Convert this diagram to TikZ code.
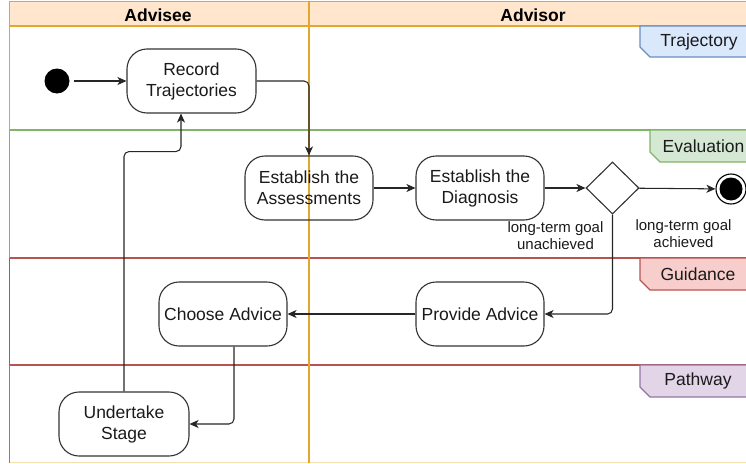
\documentclass[tikz,border=0pt]{standalone}
\usepackage{fontspec}
\setmainfont{Liberation Sans}
\usetikzlibrary{arrows.meta,shapes.geometric,calc}
\definecolor{hdrfill}{HTML}{FFE6CC}
\definecolor{hdrline}{HTML}{E3A72F}
\definecolor{trajfill}{HTML}{DAE8FC}
\definecolor{trajline}{HTML}{6C8EBF}
\definecolor{evalfill}{HTML}{D5E8D4}
\definecolor{evalline}{HTML}{82B366}
\definecolor{guidfill}{HTML}{F8CECC}
\definecolor{guidline}{HTML}{B85450}
\definecolor{pathfill}{HTML}{E1D5E7}
\definecolor{pathline}{HTML}{9673A6}
\definecolor{txt}{HTML}{1A1A1A}
\tikzset{
  act/.style={draw=black!80, line width=1.1pt, rounded corners=20pt, minimum width=128pt,
    minimum height=64pt, align=center, inner sep=0pt, text=txt,
    font=\fontsize{17.5}{21}\selectfont},
  arr/.style={draw=black!85, line width=1.05pt, rounded corners=5pt,
    -{Stealth[length=9pt,width=8pt,inset=2.5pt]}},
  lane/.style={line width=1.1pt},
  tagtext/.style={font=\fontsize{17.5}{21}\selectfont, text=txt, inner sep=0pt},
  lbl/.style={font=\fontsize{15}{17}\selectfont, text=txt, align=center, inner sep=0pt},
  hdr/.style={font=\bfseries\fontsize{17.5}{21}\selectfont, text=black, inner sep=0pt}
}
\begin{document}
\begin{tikzpicture}[x=1pt,y=-1pt]
\useasboundingbox (0,0) rectangle (746,463);
% lanes
\draw[lane, evalline] (9.5,130) -- (760,130);
\draw[lane, evalline] (9.5,130) -- (9.5,258);
\draw[lane, guidline] (9.5,258) -- (760,258);
\draw[lane, guidline] (9.5,258) -- (9.5,365);
\draw[lane, guidline] (9.5,365) -- (760,365);
\draw[lane, pathline] (9.5,365) -- (9.5,463);
\draw[lane, hdrline] (9.5,26) -- (9.5,130);
\draw[lane, hdrline!35] (9.5,462.5) -- (760,462.5);
% header
\draw[lane, hdrline, fill=hdrfill] (9.5,1.5) rectangle (760,26);
\node[hdr] (hadvisee) at (158,15) {Advisee};
\node[hdr] (hadvisor) at (533,15) {Advisor};
% divider
\draw[lane, hdrline] (309,1.5) -- (309,463);
% tags
\draw[lane, trajline, fill=trajfill] (640,26) -- (760,26) -- (760,57) -- (650,57) -- (640,47) -- cycle;
\node[tagtext] (ttraj) at (699,42) {Trajectory};
\draw[lane, evalline, fill=evalfill] (650,130) -- (760,130) -- (760,162) -- (660,162) -- (650,152) -- cycle;
\node[tagtext] (teval) at (703.5,146) {Evaluation};
\draw[lane, guidline, fill=guidfill] (640,258) -- (760,258) -- (760,290) -- (650,290) -- (640,280) -- cycle;
\node[tagtext] (tguid) at (698,274) {Guidance};
\draw[lane, pathline, fill=pathfill] (640,365) -- (760,365) -- (760,397) -- (650,397) -- (640,387) -- cycle;
\node[tagtext] (tpath) at (698,381) {Pathway};
% nodes
\node[circle, fill=black, minimum size=25pt, inner sep=0pt] (start) at (57,81) {};
\node[act, minimum width=129pt] (rec) at (191.5,81) {Record\\Trajectories};
\node[act] (assess) at (309,188) {Establish the\\Assessments};
\node[act] (diag) at (480,188) {Establish the\\Diagnosis};
\node[diamond, draw=black!80, line width=1.1pt, fill=white, minimum width=53pt, minimum height=52pt, inner sep=0pt] (dia) at (612.5,188) {};
\node[circle, draw=black, line width=1.1pt, fill=white, minimum size=30pt, inner sep=0pt] (endc) at (731,189) {};
\node[circle, fill=black, minimum size=23pt, inner sep=0pt] (endin) at (731,189) {};
\node[act] (provide) at (480,314) {Provide Advice};
\node[act] (choose) at (223,314) {Choose Advice};
\node[act, minimum width=130pt] (under) at (124,424) {Undertake\\Stage};
% labels
\node[lbl] (lach) at (683.5,233.5) {long-term goal\\achieved};
\node[lbl] (lunach) at (555.5,236) {long-term goal\\unachieved};
% connectors
\draw[arr] ($(start.east)+(4,0)$) -- (rec.west);
\draw[arr] (rec.east) -| (assess.north);
\draw[arr] (assess) -- (diag);
\draw[arr] (diag) -- (dia);
\draw[arr] (dia) -- (endc);
\draw[arr] (dia.south) |- (provide.east);
\draw[arr] (provide) -- (choose);
\draw[arr] ($(choose.south)+(11,0)$) |- (under.east);
\draw[arr] (under.north) |- ($(rec.south)+(-10.5,38)$) -- ($(rec.south)+(-10.5,0)$);
\end{tikzpicture}
\end{document}
